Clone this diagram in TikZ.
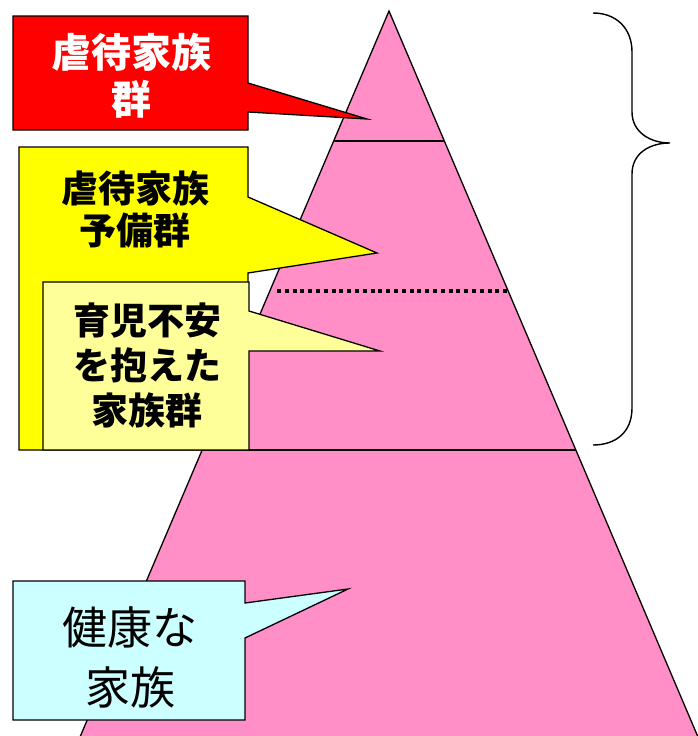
\documentclass[tikz,border=0pt]{standalone}
\usepackage{fontspec}
\usetikzlibrary{calc}
\newfontfamily\jp{Noto Sans CJK JP}
\definecolor{pyrpink}{RGB}{255,143,198}
\definecolor{boxred}{RGB}{255,0,0}
\definecolor{boxyellow}{RGB}{255,255,0}
\definecolor{boxlightyellow}{RGB}{255,255,153}
\definecolor{boxcyan}{RGB}{204,255,255}
\tikzset{
  edge/.style={draw=black, line width=1.3pt, line join=miter},
  calloutbox/.style={draw=black, line width=1.3pt, line join=miter},
  label/.style={align=center, inner sep=0pt, text=black},
}
\begin{document}
\begin{tikzpicture}[x=1pt, y=-1pt]
\useasboundingbox (0,0) rectangle (698,736);
\fill[white] (0,0) rectangle (698,736);
% pyramid
\coordinate (apex) at (389,11);
\coordinate (bl) at (80,737);
\coordinate (br) at (698,737);
\fill[pyrpink] (apex) -- (bl) -- (br) -- cycle;
\draw[edge] (bl) -- (apex) -- (br);
\coordinate (l1) at ($(apex)!{130/726}!(bl)$);
\coordinate (r1) at ($(apex)!{130/726}!(br)$);
\coordinate (l2) at ($(apex)!{439/726}!(bl)$);
\coordinate (r2) at ($(apex)!{439/726}!(br)$);
\draw[edge] (l1) -- (r1);
\draw[edge] (l2) -- (r2);
\coordinate (d1) at (277,291);
\coordinate (d2) at (510,291);
\draw[black, line width=4.2pt, dash pattern=on 4pt off 3.8pt] (d1) -- (d2);
% yellow callout
\draw[calloutbox, fill=boxyellow] (19,147) -- (248,147) -- (248,197) -- (377,253) -- (248,273) -- (248,450) -- (19,450) -- cycle;
% light yellow callout
\draw[calloutbox, fill=boxlightyellow] (43,282) -- (249,282) -- (249,311) -- (380,351) -- (249,351) -- (249,450) -- (43,450) -- cycle;
% red callout
\draw[calloutbox, fill=boxred] (13,16) -- (248,16) -- (248,83) -- (367,119) -- (248,112) -- (248,130) -- (13,130) -- cycle;
% cyan callout
\draw[calloutbox, fill=boxcyan] (13,581) -- (245,581) -- (245,603) -- (348,589) -- (245,638) -- (245,720) -- (13,720) -- cycle;
% texts
\node[label, text=white, font=\jp\bfseries\fontsize{40}{47}\selectfont] (tred) at (131,76) {虐待家族\\群};
\node[label, font=\jp\bfseries\fontsize{37}{42}\selectfont] (tyellow) at (135,209) {虐待家族\\予備群};
\node[label, font=\jp\bfseries\fontsize{37}{45}\selectfont] (tlight) at (147,365) {育児不安\\を抱えた\\家族群};
\node[label, font=\jp\fontsize{45}{60}\selectfont] (tcyan) at (130,657) {健康な\\家族};
% brace
\coordinate (bt) at (593,13);
\coordinate (btip) at (670,143);
\coordinate (bb) at (593,445);
\draw[black, line width=1.4pt] (bt) .. controls (616,13) and (632,28) .. (632,52)
  -- (632,112) .. controls (632,132) and (650,143) .. (btip)
  .. controls (650,143) and (632,153) .. (632,174)
  -- (632,408) .. controls (632,432) and (616,445) .. (bb);
\end{tikzpicture}
\end{document}
